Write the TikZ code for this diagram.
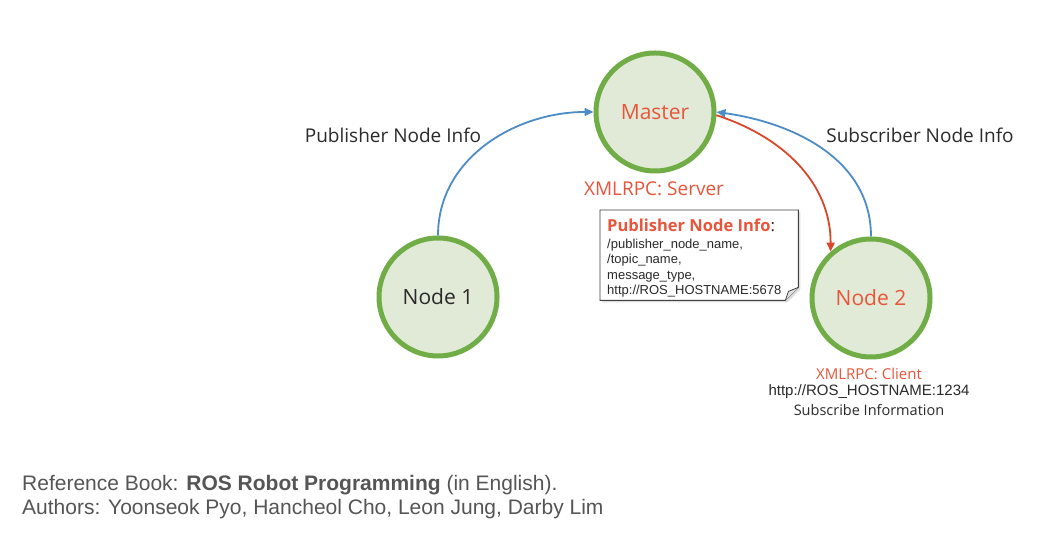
\documentclass[tikz,border=0pt]{standalone}
\usepackage{fontspec}
\setmainfont{Open Sans}
\newfontfamily\arial{Liberation Sans}
\usetikzlibrary{arrows.meta,shadows}
\definecolor{ngreen}{HTML}{70AD47}
\definecolor{nfill}{HTML}{E0EAD6}
\definecolor{rtext}{HTML}{E8553A}
\definecolor{rarrow}{HTML}{D9472B}
\definecolor{barrow}{HTML}{4E8CC8}
\definecolor{dtext}{HTML}{2A2A2A}
\definecolor{ftext}{HTML}{555555}
\begin{document}
\begin{tikzpicture}[x=1pt,y=1pt,
  rosnode/.style={circle,draw=ngreen,fill=nfill,line width=5pt,minimum size=118pt,inner sep=0pt,font=\fontsize{21}{24}\selectfont},
  lbl/.style={font=\fontsize{19}{22}\selectfont,text=dtext,inner sep=0pt},
  small/.style={font=\fontsize{14.5}{16}\selectfont,inner sep=0pt},
  flow/.style={line width=1.8pt,-{Triangle[length=9pt,width=8pt]}},
]
\useasboundingbox (0,0) rectangle (1063,540);
\fill[white] (0,0) rectangle (1063,540);

\node[rosnode,text=rtext] (master) at (655,428) {Master};
\node[rosnode,text=dtext] (n1) at (438,243) {Node 1};
\node[rosnode,text=rtext] (n2) at (871,242) {Node 2};

\node[lbl] (lpub) at (393,405) {Publisher Node Info};
\node[lbl] (lsub) at (920,405) {Subscriber Node Info};
\node[lbl,text=rtext,font=\fontsize{19}{22}\selectfont] (lserver) at (654,351) {XMLRPC: Server};

\node[small,text=rtext,font=\fontsize{15}{16}\selectfont] (lclient) at (869,166) {XMLRPC: Client};
\node[small,text=dtext,font=\arial\fontsize{15}{16}\selectfont] (lhost) at (869,148) {http://ROS\_HOSTNAME:1234};
\node[small,text=dtext] (lsubinfo) at (869,130) {Subscribe Information};

% note
\node[anchor=north west,minimum width=198pt,minimum height=90pt,inner sep=0pt] (note) at (600,330) {};
\path[draw=black!75,line width=0.9pt,fill=white,drop shadow={opacity=0.25,shadow xshift=2pt,shadow yshift=-2pt}]
  (note.north west) -- (note.north east) -- ([yshift=13pt]note.south east) -- ([xshift=-13pt]note.south east) -- (note.south west) -- cycle;
\draw[black!75,line width=0.8pt,fill=black!12] ([xshift=-13pt]note.south east) -- ([xshift=-10pt,yshift=9pt]note.south east) -- ([yshift=13pt]note.south east);
\node[anchor=north west,inner sep=0pt,align=left,text=dtext,font=\arial\fontsize{13}{15.5}\selectfont] (notetext) at (607,321)
  {{\fontsize{16.5}{18}\selectfont\fontspec{Open Sans}\bfseries\textcolor{rtext}{Publisher Node Info}\mdseries:}\\[1pt]
   /publisher\_node\_name,\\ /topic\_name,\\ message\_type,\\ http://ROS\_HOSTNAME:5678};

% connectors
\draw[flow,barrow] (n1.north) to[out=90,in=180] (master.west);
\draw[flow,barrow] (n2.north) to[out=90,in=-8] (master.east);
\draw[flow,rarrow] (master.-3) to[out=-18,in=90] (n2.131);

% footer
\node[anchor=west,inner sep=0pt,text=ftext,font=\arial\fontsize{21}{24}\selectfont] (ref) at (22,55)
  {Reference Book: \textbf{ROS Robot Programming} (in English).};
\node[anchor=west,inner sep=0pt,text=ftext,font=\arial\fontsize{21}{24}\selectfont] (auth) at (22,31)
  {Authors: Yoonseok Pyo, Hancheol Cho, Leon Jung, Darby Lim};
\end{tikzpicture}
\end{document}
